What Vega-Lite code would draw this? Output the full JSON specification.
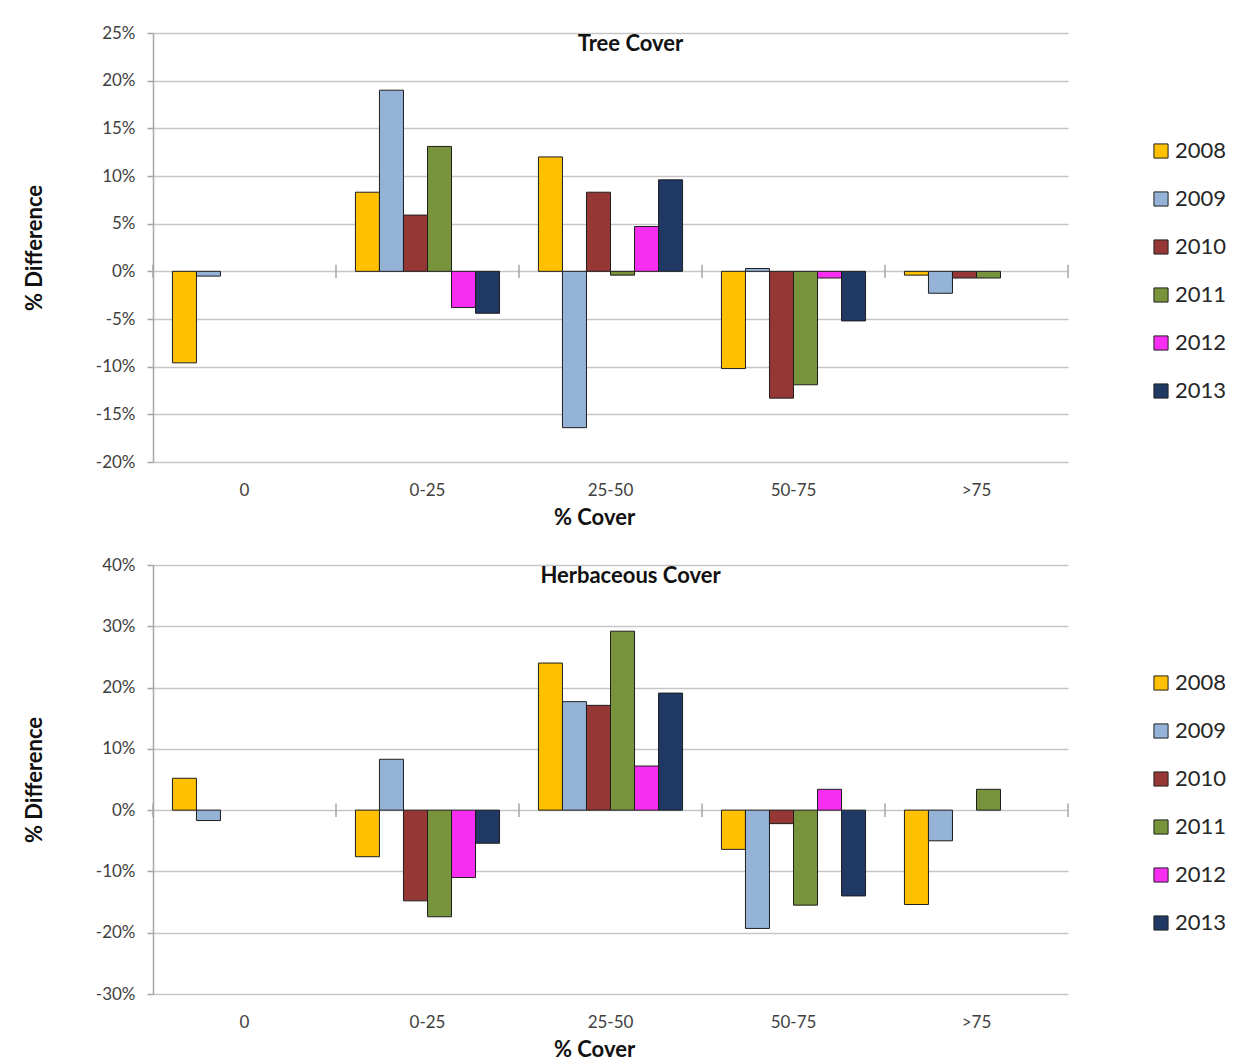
{
  "$schema": "https://vega.github.io/schema/vega-lite/v6.json",
  "background": "white",
  "padding": {"left": 23, "top": 24, "right": 0, "bottom": 0},
  "bounds": "flush",
  "spacing": 103,
  "datasets": {
    "cats": [{"cover": "0"}, {"cover": "0-25"}, {"cover": "25-50"}, {"cover": "50-75"}, {"cover": ">75"}],
    "last": [{"cover": ">75"}],
    "tree": [
      {"cover": "0", "year": "2008", "value": -0.096},
      {"cover": "0", "year": "2009", "value": -0.005},
      {"cover": "0-25", "year": "2008", "value": 0.083},
      {"cover": "0-25", "year": "2009", "value": 0.190},
      {"cover": "0-25", "year": "2010", "value": 0.059},
      {"cover": "0-25", "year": "2011", "value": 0.131},
      {"cover": "0-25", "year": "2012", "value": -0.038},
      {"cover": "0-25", "year": "2013", "value": -0.044},
      {"cover": "25-50", "year": "2008", "value": 0.120},
      {"cover": "25-50", "year": "2009", "value": -0.164},
      {"cover": "25-50", "year": "2010", "value": 0.083},
      {"cover": "25-50", "year": "2011", "value": -0.004},
      {"cover": "25-50", "year": "2012", "value": 0.047},
      {"cover": "25-50", "year": "2013", "value": 0.096},
      {"cover": "50-75", "year": "2008", "value": -0.102},
      {"cover": "50-75", "year": "2009", "value": 0.003},
      {"cover": "50-75", "year": "2010", "value": -0.133},
      {"cover": "50-75", "year": "2011", "value": -0.119},
      {"cover": "50-75", "year": "2012", "value": -0.007},
      {"cover": "50-75", "year": "2013", "value": -0.052},
      {"cover": ">75", "year": "2008", "value": -0.004},
      {"cover": ">75", "year": "2009", "value": -0.023},
      {"cover": ">75", "year": "2010", "value": -0.007},
      {"cover": ">75", "year": "2011", "value": -0.007}
    ],
    "herb": [
      {"cover": "0", "year": "2008", "value": 0.052},
      {"cover": "0", "year": "2009", "value": -0.017},
      {"cover": "0-25", "year": "2008", "value": -0.076},
      {"cover": "0-25", "year": "2009", "value": 0.083},
      {"cover": "0-25", "year": "2010", "value": -0.148},
      {"cover": "0-25", "year": "2011", "value": -0.174},
      {"cover": "0-25", "year": "2012", "value": -0.110},
      {"cover": "0-25", "year": "2013", "value": -0.054},
      {"cover": "25-50", "year": "2008", "value": 0.240},
      {"cover": "25-50", "year": "2009", "value": 0.177},
      {"cover": "25-50", "year": "2010", "value": 0.171},
      {"cover": "25-50", "year": "2011", "value": 0.292},
      {"cover": "25-50", "year": "2012", "value": 0.072},
      {"cover": "25-50", "year": "2013", "value": 0.191},
      {"cover": "50-75", "year": "2008", "value": -0.064},
      {"cover": "50-75", "year": "2009", "value": -0.193},
      {"cover": "50-75", "year": "2010", "value": -0.022},
      {"cover": "50-75", "year": "2011", "value": -0.155},
      {"cover": "50-75", "year": "2012", "value": 0.034},
      {"cover": "50-75", "year": "2013", "value": -0.140},
      {"cover": ">75", "year": "2008", "value": -0.154},
      {"cover": ">75", "year": "2009", "value": -0.050},
      {"cover": ">75", "year": "2011", "value": 0.034}
    ]
  },
  "config": {
    "font": "Lato",
    "view": {"stroke": null},
    "axis": {
      "labelFont": "Lato", "labelColor": "#404040", "labelFontSize": 17,
      "titleFont": "Lato", "titleFontSize": 22, "titleFontWeight": "bold", "titleColor": "#111111",
      "gridColor": "#C6C6C6", "gridWidth": 1.5, "domainColor": "#A6A6A6", "domainWidth": 1.5,
      "tickColor": "#A6A6A6", "tickWidth": 1.5
    },
    "legend": {
      "orient": "none", "legendX": 997, "legendY": 107, "padding": 0,
      "symbolType": "square", "symbolSize": 200, "symbolStrokeWidth": 1, "symbolStrokeColor": "#222222",
      "symbolOpacity": 1, "labelFont": "Lato", "labelFontSize": 22, "labelColor": "#262626",
      "labelOffset": 3, "rowPadding": 26
    }
  },
  "resolve": {
    "scale": {"y": "independent", "color": "independent", "x": "independent", "xOffset": "independent"},
    "legend": {"color": "independent"}
  },
  "vconcat": [
    {
      "width": 915, "height": 429,
      "layer": [
        {
          "data": {"name": "tree"},
          "mark": {"type": "bar", "stroke": "#1E1E1E", "strokeWidth": 1},
          "encoding": {
            "x": {"field": "cover", "type": "nominal", "sort": ["0", "0-25", "25-50", "50-75", ">75"],
                  "scale": {"paddingInner": 0, "paddingOuter": 0},
                  "axis": {"orient": "bottom", "title": "% Cover", "ticks": false, "domain": false, "grid": false,
                           "labelAngle": 0, "labelPadding": 20, "titlePadding": 9, "titleX": 441}},
            "xOffset": {"field": "year", "type": "nominal",
                        "scale": {"domain": ["2008", "2009", "2010", "2011", "2012", "2013"], "paddingInner": 0, "paddingOuter": 0.81}},
            "y": {"field": "value", "type": "quantitative",
                  "scale": {"domain": [-0.2, 0.25], "nice": false, "zero": false},
                  "axis": {"values": [-0.2, -0.15, -0.1, -0.05, 0, 0.05, 0.1, 0.15, 0.2, 0.25], "format": ".0%",
                           "labelExpr": "replace(datum.label, '−', '-')",
                           "title": "% Difference", "tickSize": 6, "labelPadding": 12, "titlePadding": 49}},
            "color": {"field": "year", "type": "nominal",
                      "scale": {"domain": ["2008", "2009", "2010", "2011", "2012", "2013"],
                                "range": ["#FFC000", "#95B3D7", "#953735", "#77933C", "#F72DF2", "#1F3864"]},
                      "legend": {"title": null}}
          }
        },
        {
          "data": {"name": "cats"},
          "mark": {"type": "rule", "color": "#A6A6A6", "strokeWidth": 1.5},
          "encoding": {
            "x": {"field": "cover", "type": "nominal", "bandPosition": 0, "sort": ["0", "0-25", "25-50", "50-75", ">75"]},
            "y": {"datum": -0.007, "type": "quantitative"},
            "y2": {"datum": 0.007}
          }
        },
        {
          "data": {"name": "last"},
          "mark": {"type": "rule", "color": "#A6A6A6", "strokeWidth": 1.5},
          "encoding": {
            "x": {"field": "cover", "type": "nominal", "bandPosition": 1, "sort": ["0", "0-25", "25-50", "50-75", ">75"]},
            "y": {"datum": -0.007, "type": "quantitative"},
            "y2": {"datum": 0.007}
          }
        },
        {
          "data": {"values": [{}]},
          "mark": {"type": "text", "font": "Lato", "fontSize": 22, "fontWeight": "bold", "color": "#111111", "align": "center", "baseline": "middle", "dx": 20},
          "encoding": {
            "x": {"datum": "25-50", "type": "nominal"},
            "y": {"datum": 0.2385, "type": "quantitative"},
            "text": {"value": "Tree Cover"}
          }
        }
      ]
    },
    {
      "width": 915, "height": 429,
      "layer": [
        {
          "data": {"name": "herb"},
          "mark": {"type": "bar", "stroke": "#1E1E1E", "strokeWidth": 1},
          "encoding": {
            "x": {"field": "cover", "type": "nominal", "sort": ["0", "0-25", "25-50", "50-75", ">75"],
                  "scale": {"paddingInner": 0, "paddingOuter": 0},
                  "axis": {"orient": "bottom", "title": "% Cover", "ticks": false, "domain": false, "grid": false,
                           "labelAngle": 0, "labelPadding": 20, "titlePadding": 9, "titleX": 441}},
            "xOffset": {"field": "year", "type": "nominal",
                        "scale": {"domain": ["2008", "2009", "2010", "2011", "2012", "2013"], "paddingInner": 0, "paddingOuter": 0.81}},
            "y": {"field": "value", "type": "quantitative",
                  "scale": {"domain": [-0.3, 0.4], "nice": false, "zero": false},
                  "axis": {"values": [-0.3, -0.2, -0.1, 0, 0.1, 0.2, 0.3, 0.4], "format": ".0%",
                           "labelExpr": "replace(datum.label, '−', '-')",
                           "title": "% Difference", "tickSize": 6, "labelPadding": 12, "titlePadding": 49}},
            "color": {"field": "year", "type": "nominal",
                      "scale": {"domain": ["2008", "2009", "2010", "2011", "2012", "2013"],
                                "range": ["#FFC000", "#95B3D7", "#953735", "#77933C", "#F72DF2", "#1F3864"]},
                      "legend": {"title": null}}
          }
        },
        {
          "data": {"name": "cats"},
          "mark": {"type": "rule", "color": "#A6A6A6", "strokeWidth": 1.5},
          "encoding": {
            "x": {"field": "cover", "type": "nominal", "bandPosition": 0, "sort": ["0", "0-25", "25-50", "50-75", ">75"]},
            "y": {"datum": -0.011, "type": "quantitative"},
            "y2": {"datum": 0.011}
          }
        },
        {
          "data": {"name": "last"},
          "mark": {"type": "rule", "color": "#A6A6A6", "strokeWidth": 1.5},
          "encoding": {
            "x": {"field": "cover", "type": "nominal", "bandPosition": 1, "sort": ["0", "0-25", "25-50", "50-75", ">75"]},
            "y": {"datum": -0.011, "type": "quantitative"},
            "y2": {"datum": 0.011}
          }
        },
        {
          "data": {"values": [{}]},
          "mark": {"type": "text", "font": "Lato", "fontSize": 22, "fontWeight": "bold", "color": "#111111", "align": "center", "baseline": "middle", "dx": 20},
          "encoding": {
            "x": {"datum": "25-50", "type": "nominal"},
            "y": {"datum": 0.382, "type": "quantitative"},
            "text": {"value": "Herbaceous Cover"}
          }
        }
      ]
    }
  ]
}
